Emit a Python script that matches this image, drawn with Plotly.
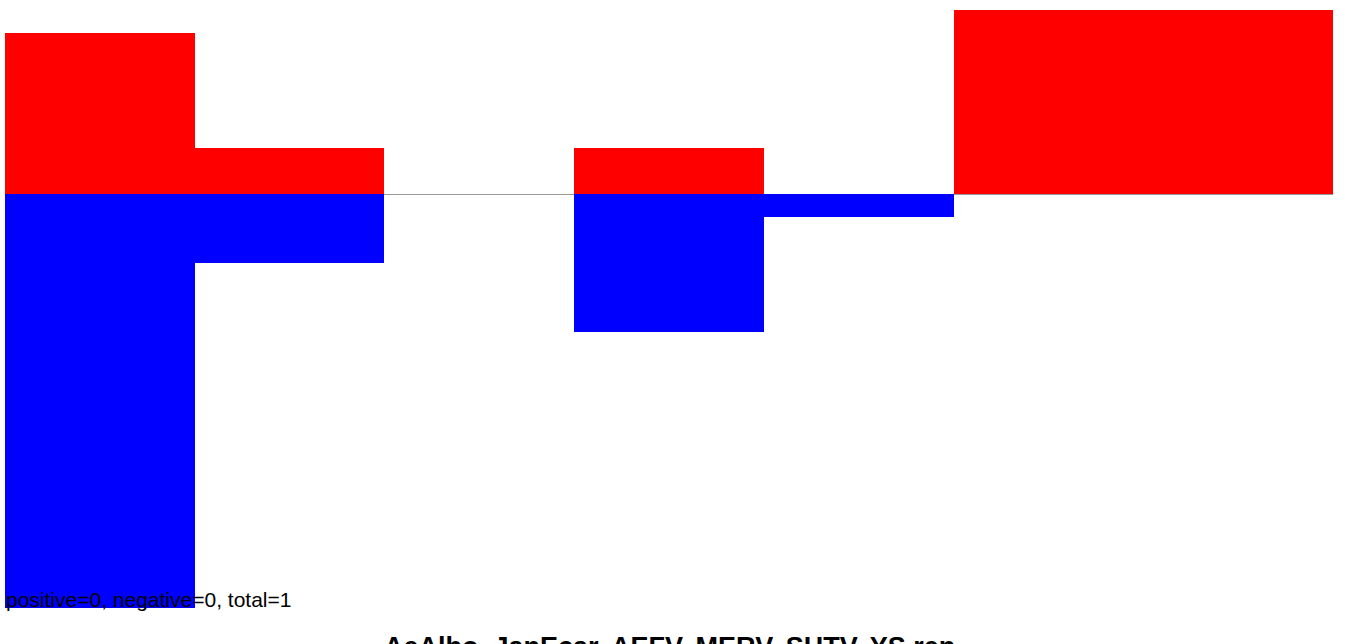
import plotly.graph_objects as go

categories = [1, 2, 3, 4, 5, 6, 7]
positive_vals = [7, 2, 0, 2, 0, 8, 8]
negative_vals = [-18, -3, 0, -6, -1, 0, 0]
caption = "positive=0, negative=0, total=1"
title_text = "AeAlbo, JapEcar, AEFV, MERV, SHTV, YS rep"

fig = go.Figure()
fig.add_trace(go.Bar(x=categories, y=positive_vals, marker=dict(color="#ff0000", line=dict(width=0)), name="positive"))
fig.add_trace(go.Bar(x=categories, y=negative_vals, marker=dict(color="#0000ff", line=dict(width=0)), name="negative"))

fig.update_layout(
    width=1345, height=644,
    barmode="relative", bargap=0,
    showlegend=False,
    plot_bgcolor="white", paper_bgcolor="white",
    margin=dict(l=5, r=12, t=10, b=36),
    xaxis=dict(visible=False, range=[0.5, 7.5]),
    yaxis=dict(range=[-18, 8], showgrid=False, showticklabels=False, ticks="",
               zeroline=True, zerolinecolor="#999999", zerolinewidth=1, showline=False),
    font=dict(family="Liberation Sans, Arial, sans-serif", color="black"),
    annotations=[
        dict(text=caption, x=0, y=-0.006, xref="paper", yref="paper", xanchor="left", yanchor="bottom",
             showarrow=False, font=dict(size=21, color="black"), borderpad=0),
        dict(text="<b>" + title_text + "</b>", x=0.5, y=-0.036, xref="paper", yref="paper",
             xanchor="center", yanchor="top", showarrow=False, font=dict(size=27, color="black")),
    ],
)
fig.write_html("out.html", config={"displayModeBar": False},
               post_script="document.body.style.margin='0';")
